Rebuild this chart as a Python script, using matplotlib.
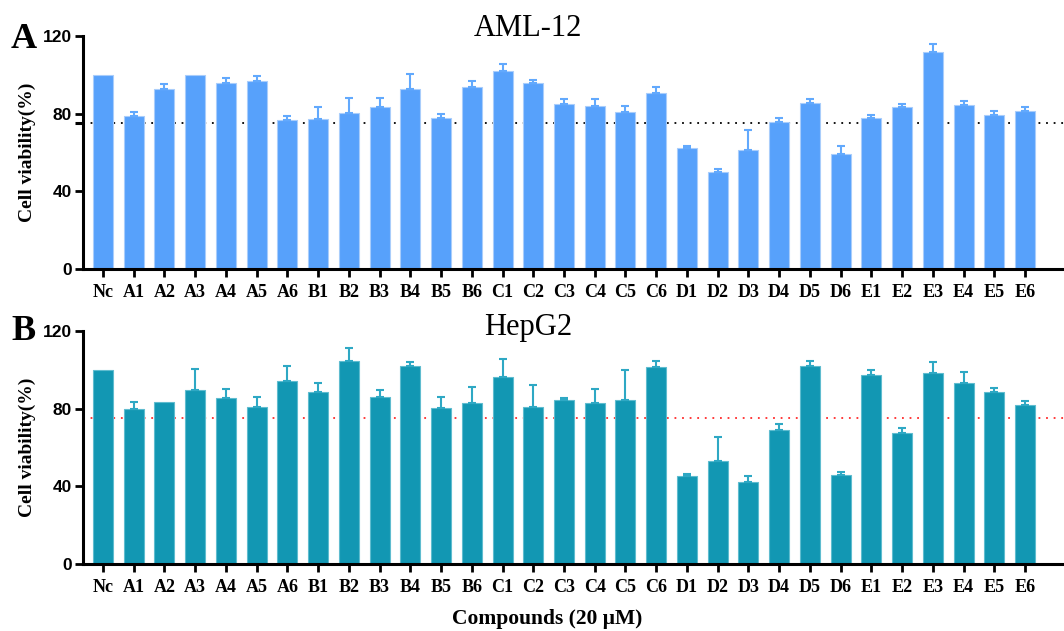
import numpy as np
import matplotlib
matplotlib.use("Agg")
import matplotlib.pyplot as plt

categories = ["Nc", "A1", "A2", "A3", "A4", "A5", "A6", "B1", "B2", "B3", "B4", "B5", "B6",
              "C1", "C2", "C3", "C4", "C5", "C6", "D1", "D2", "D3", "D4", "D5", "D6",
              "E1", "E2", "E3", "E4", "E5", "E6"]

aml_mean = [100.0, 79.0, 92.5, 100.0, 95.6, 96.6, 76.9, 77.2, 80.3, 83.6, 92.8, 77.6, 93.7,
            102.1, 95.6, 85.0, 83.9, 80.7, 90.6, 62.1, 50.1, 61.3, 75.9, 85.3, 59.2,
            77.6, 83.2, 111.6, 84.6, 79.3, 81.5]
aml_err = [0.0, 2.0, 2.8, 0.0, 2.7, 2.6, 1.9, 6.0, 7.6, 4.3, 7.4, 2.4, 3.3,
           3.6, 1.9, 2.4, 3.5, 3.1, 3.3, 1.4, 1.5, 10.1, 2.0, 2.1, 4.1,
           1.7, 1.8, 4.4, 2.1, 1.9, 2.1]

hep_mean = [100.0, 79.7, 83.5, 89.5, 85.7, 80.9, 94.5, 88.8, 104.7, 86.1, 102.2, 80.4, 82.8,
            96.5, 80.7, 84.5, 83.1, 84.5, 101.5, 45.3, 53.3, 42.2, 69.1, 102.2, 45.9,
            97.2, 67.7, 98.6, 93.1, 88.5, 81.8]
hep_err = [0.0, 3.6, 0.0, 11.0, 4.5, 5.3, 7.7, 4.5, 6.4, 3.7, 2.0, 5.7, 8.4,
           8.9, 11.4, 1.0, 7.1, 15.5, 2.9, 1.0, 12.0, 2.9, 2.9, 2.4, 1.4,
           2.9, 2.6, 5.5, 5.6, 2.4, 2.0]

yticks = [0, 40, 80, 120]
threshold = 75
titles = ["AML-12", "HepG2"]
panel_labels = ["A", "B"]

W, H = 1064, 631
fig = plt.figure(figsize=(W / 100, H / 100), dpi=100)

def fx(px):
    return px / W

def fy(py):
    return 1 - py / H

serif = "Liberation Serif"
sans = "Liberation Sans"

panels = [
    dict(mean=aml_mean, err=aml_err, top=36, bottom=269, color="#57a1fb", edge="#a9cdfb",
         ecolor="#62a9fd", line="black", title=titles[0], label=panel_labels[0],
         title_y=28, lab_y=39, minor=True),
    dict(mean=hep_mean, err=hep_err, top=331, bottom=564, color="#1297b3", edge="#5fbccf",
         ecolor="#2ea8c4", line="#ff2a2a", title=titles[1], label=panel_labels[1],
         title_y=328, lab_y=331, minor=False),
]

x = np.arange(len(categories))
spacing = (1025 - 103) / 30.0
left_px, right_px = 83, 1064
xmin = (left_px - 103) / spacing
xmax = (right_px - 103) / spacing

for p in panels:
    ax = fig.add_axes([fx(left_px), fy(p["bottom"]), fx(right_px - left_px),
                       (p["bottom"] - p["top"]) / H])
    mean = np.array(p["mean"])
    err = np.array(p["err"])
    ax.axhline(threshold, color=p["line"], lw=1.3, linestyle=(0, (1, 3.2)), zorder=1)
    ax.bar(x, mean, width=0.65, color=p["color"], edgecolor=p["edge"], linewidth=0.8, zorder=2)
    m = err > 0
    ax.errorbar(x[m], mean[m], yerr=[np.zeros(m.sum()), err[m]], fmt="none",
                ecolor=p["ecolor"], elinewidth=1.5, capsize=3.0, capthick=1.5, zorder=3)
    ax.set_xlim(xmin, xmax)
    ax.set_ylim(0, 120)
    ax.set_yticks(yticks)
    ax.set_yticklabels([str(v) for v in yticks], fontfamily=sans, fontweight="bold", fontsize=12.5)
    if p["minor"]:
        ax.set_yticks([threshold], minor=True)
        ax.tick_params(axis="y", which="minor", length=6, width=2.2, color="black")
    ax.set_xticks(x)
    ax.set_xticklabels(categories, fontfamily=serif, fontweight="bold", fontsize=13)
    for s in ["top", "right"]:
        ax.spines[s].set_visible(False)
    for s in ["left", "bottom"]:
        ax.spines[s].set_linewidth(2.2)
    ax.tick_params(axis="both", which="major", length=6, width=2.0, direction="out")
    ax.tick_params(axis="x", pad=5)
    ax.tick_params(axis="y", pad=2)
    fig.text(fx(528), fy(p["title_y"]), p["title"], fontfamily=serif, fontsize=22,
             ha="center", va="center")
    fig.text(fx(11), fy(p["lab_y"]), p["label"], fontfamily=serif, fontweight="bold",
             fontsize=26, ha="left", va="center")
    fig.text(fx(27), fy((p["top"] + p["bottom"]) / 2), "Cell viability(%)", fontfamily=serif,
             fontweight="bold", fontsize=14, rotation=90, ha="center", va="center")

fig.text(fx(547), fy(619), "Compounds (20 μM)", fontfamily=serif, fontweight="bold",
         fontsize=15.5, ha="center", va="center")

fig.savefig("out.png", dpi=100)
